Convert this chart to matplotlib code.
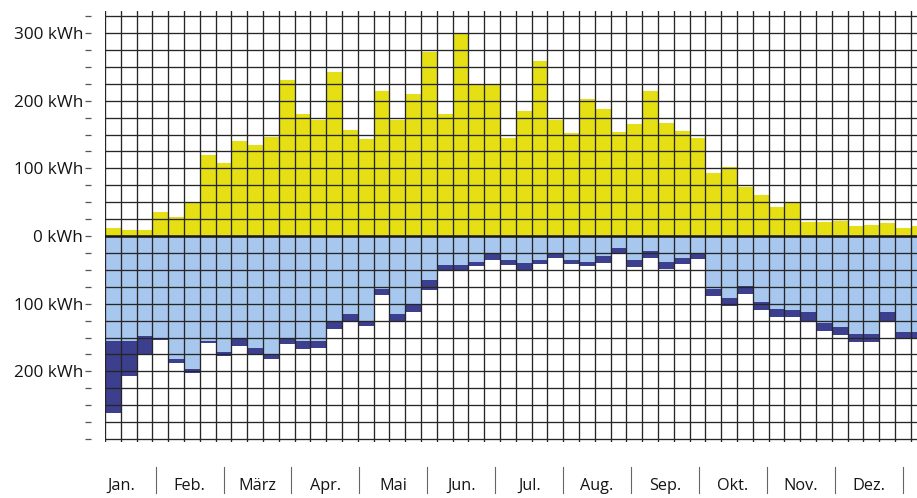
"""Wöchentliche Erzeugung und Verbrauch (kWh) als Gitter-Balkendiagramm."""

import matplotlib

matplotlib.use("Agg")
import matplotlib.pyplot as plt
import numpy as np
from matplotlib.ticker import FixedLocator, FuncFormatter

plt.rcParams["font.family"] = ["Open Sans", "DejaVu Sans"]

# Wochenwerte (52 Wochen)
produktion = [
    12, 9, 9, 35, 28, 50, 120, 108, 140, 135, 147, 230, 181,
    172, 243, 157, 144, 215, 171, 210, 272, 181, 300, 225, 224, 145,
    185, 258, 171, 152, 203, 187, 154, 166, 214, 167, 155, 145, 93,
    102, 72, 60, 43, 50, 21, 21, 22, 15, 17, 19, 12, 15,
]
verbrauch = [
    155, 155, 148, 152, 182, 197, 155, 172, 152, 165, 175, 150, 155,
    155, 125, 115, 125, 78, 115, 100, 65, 43, 43, 38, 25, 35,
    40, 35, 25, 35, 38, 30, 18, 36, 22, 39, 32, 25, 78,
    92, 74, 98, 108, 110, 113, 128, 135, 145, 145, 113, 142, 142,
]
zusatz = [
    107, 52, 27, 2, 5, 5, 3, 6, 10, 10, 7, 10, 12,
    10, 12, 12, 8, 9, 10, 12, 15, 9, 7, 7, 10, 8,
    10, 7, 7, 7, 7, 10, 9, 10, 10, 10, 10, 9, 10,
    11, 12, 12, 12, 10, 12, 12, 12, 12, 12, 12, 10, 10,
]
monate = ["Jan.", "Feb.", "März", "Apr.", "Mai", "Jun.", "Jul.",
          "Aug.", "Sep.", "Okt.", "Nov.", "Dez."]

GELB = "#e5df14"
HELLBLAU = "#a7c7ee"
DUNKELBLAU = "#3c3e8e"
GITTER = "#262626"
TEXT = "#151515"


def main() -> None:
    fig = plt.figure(figsize=(9.17, 4.98), dpi=100)
    ax = fig.add_axes([0.1145, 0.113, 0.896, 0.8655])

    n = len(produktion)
    x = np.arange(n) + 0.5
    prod = np.array(produktion)
    verb = np.array(verbrauch)
    zus = np.array(zusatz)

    ax.bar(x, prod, width=1.0, color=GELB, linewidth=0, zorder=1)
    ax.bar(x, -verb, width=1.0, color=HELLBLAU, linewidth=0, zorder=1)
    ax.bar(x, -zus, bottom=-verb, width=1.0, color=DUNKELBLAU,
           linewidth=0, zorder=1)

    ax.set_xlim(0, n)
    ax.set_ylim(-304, 333)

    # Gitter: jede Woche, alle 25 kWh
    ax.set_xticks(np.arange(0, n + 1))
    ax.tick_params(axis="x", length=0, labelbottom=False)
    ax.yaxis.set_major_locator(FixedLocator([-200, -100, 0, 100, 200, 300]))
    ax.yaxis.set_minor_locator(FixedLocator(np.arange(-300, 326, 25)))
    ax.yaxis.set_major_formatter(FuncFormatter(lambda v, p: f"{abs(int(v))} kWh"))
    ax.set_axisbelow(False)
    ax.grid(axis="x", color=GITTER, linewidth=0.95, zorder=2)
    ax.grid(axis="y", which="both", color=GITTER, linewidth=0.95, zorder=2)
    ax.axhline(0, color="#1a1a1a", linewidth=1.8, zorder=3)

    for side in ("top", "right", "bottom"):
        ax.spines[side].set_visible(False)
    ax.spines["left"].set_position(("outward", 10))
    ax.spines["left"].set_visible(False)
    ax.tick_params(axis="y", which="both", direction="out", length=4.3,
                   width=0.9, color="#555555", pad=1.5,
                   labelsize=12.3, labelcolor=TEXT)

    # Monatsbeschriftung mit Trennstrichen
    trafo = ax.get_xaxis_transform()
    for k, name in enumerate(monate):
        sep = 3.2 + 4.3 * k
        ax.text(sep - 2.15, -0.112, name, transform=trafo, ha="center",
                va="baseline", fontsize=11.7, color=TEXT)
        ax.plot([sep, sep], [-0.059, -0.119], transform=trafo,
                color="#666666", linewidth=0.8, clip_on=False)

    fig.savefig("out.png", dpi=100)


if __name__ == "__main__":
    main()
